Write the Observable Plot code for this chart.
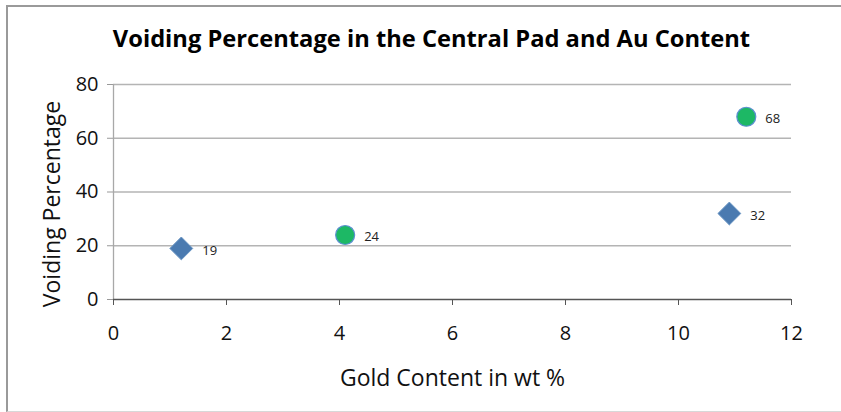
<!DOCTYPE html>
<html>
<head>
<meta charset="utf-8">
<script src="https://cdn.jsdelivr.net/npm/d3@7"></script>
<script src="https://cdn.jsdelivr.net/npm/@observablehq/plot@0.6"></script>
<style>
  html, body { margin: 0; padding: 0; background: #fff; }
  #wrap { position: relative; width: 841px; height: 412px; overflow: hidden; }
  #frame { position: absolute; left: 6px; top: 5px; width: 900px; height: 404px;
           border-top: 2px solid #9a9a9a; border-left: 2px solid #9a9a9a; border-bottom: 1px solid #d8d8d8; }
  #title { position: absolute; left: 0; width: 863px; top: 22px; text-align: center;
           font-family: "Open Sans", sans-serif; font-weight: bold; font-size: 23.7px; color: #000; }
  #chart { position: absolute; left: 0; top: 0; }
</style>
</head>
<body>
<div id="wrap">
  <div id="frame"></div>
  <div id="chart"></div>
  <div id="title"></div>
</div>
<script>
const titleText = "Voiding Percentage in the Central Pad and Au Content";
const xLabel = "Gold Content in wt %";
const yLabel = "Voiding Percentage";
const xTicks = [0, 2, 4, 6, 8, 10, 12];
const yTicks = [0, 20, 40, 60, 80];

// Series 1: blue diamonds
const diamondX = [1.2, 10.9];
const diamondY = [19, 32];
// Series 2: green circles
const circleX = [4.1, 11.2];
const circleY = [24, 68];

const diamonds = diamondX.map((x, i) => ({x, y: diamondY[i]}));
const circles = circleX.map((x, i) => ({x, y: circleY[i]}));

document.getElementById("title").textContent = titleText;

const chart = Plot.plot({
  width: 841,
  height: 412,
  marginLeft: 113,
  marginRight: 50,
  marginTop: 84,
  marginBottom: 113,
  style: { fontFamily: "'Open Sans', sans-serif", fontSize: "20px", color: "#000", background: "transparent", overflow: "visible" },
  x: { domain: [0, 12] },
  y: { domain: [0, 80] },
  marks: [
    Plot.ruleY(yTicks.filter(d => d > 0), { stroke: "#b4b4b4", strokeWidth: 1.3 }),
    Plot.axisY({ ticks: yTicks, tickSize: 6, tickPadding: 9, stroke: "#999", label: null, fontSize: 20, fill: "#111" }),
    Plot.ruleX([0], { stroke: "#a8a8a8", strokeWidth: 1.3 }),
    Plot.axisX({ ticks: xTicks, tickSize: 6, tickPadding: 20, stroke: "#555", label: null, fontSize: 20, fill: "#111" }),
    Plot.ruleY([0], { stroke: "#555", strokeWidth: 1.5 }),
    Plot.text([yLabel], { text: d => d, frameAnchor: "left", textAnchor: "middle", lineAnchor: "middle", rotate: -90, dx: -61, dy: 12, fontSize: 23, fill: "#111" }),
    Plot.text([xLabel], { text: d => d, frameAnchor: "bottom", textAnchor: "middle", lineAnchor: "middle", dy: 79, fontSize: 23, fill: "#111" }),
    Plot.dot(diamonds, { x: "x", y: "y", symbol: "diamond2", r: 10.3, fill: "#4a7ab0", stroke: "#6b96c4", strokeWidth: 1 }),
    Plot.dot(circles, { x: "x", y: "y", symbol: "circle", r: 9.5, fill: "#1db865", stroke: "#5b8fd0", strokeWidth: 1.2 }),
    Plot.text(diamonds, { x: "x", y: "y", text: d => String(d.y), dx: 21, dy: 2, textAnchor: "start", fontSize: 13, fill: "#222" }),
    Plot.text(circles, { x: "x", y: "y", text: d => String(d.y), dx: 19, dy: 2, textAnchor: "start", fontSize: 13, fill: "#222" })
  ]
});
document.getElementById("chart").appendChild(chart);
</script>
</body>
</html>
